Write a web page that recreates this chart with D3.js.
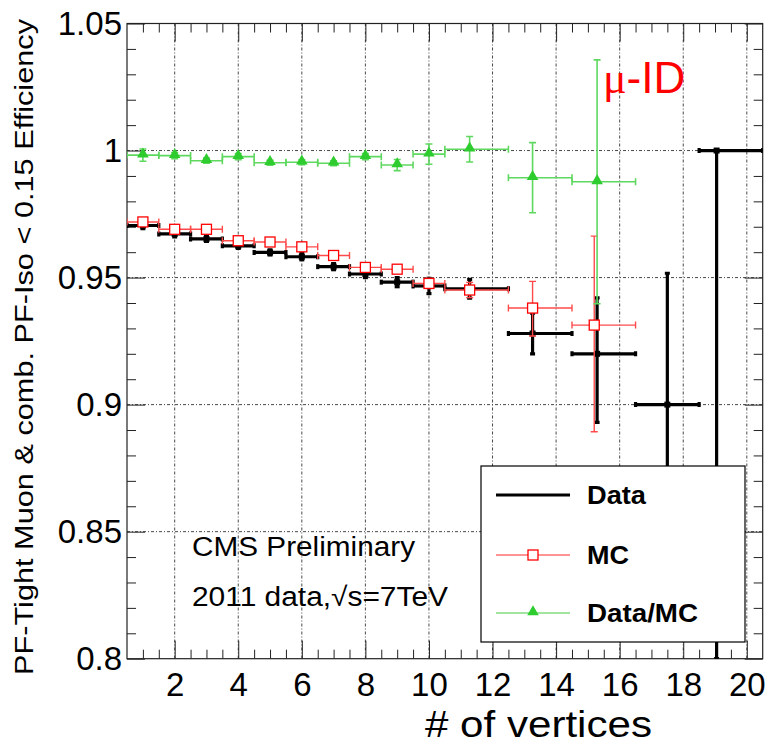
<!DOCTYPE html>
<html>
<head>
<meta charset="utf-8">
<script src="https://cdn.jsdelivr.net/npm/d3@7"></script>
<style>
  body { margin: 0; background: #fff; }
  svg { display: block; }
  text { font-family: "Liberation Sans", Arial, Helvetica, sans-serif; }
</style>
</head>
<body>
<svg id="chart" width="769" height="746"></svg>
<script>
// ---- bin edges (number of reconstructed vertices) ----
const binLow  = [0.5, 1.5, 2.5, 3.5, 4.5, 5.5, 6.5, 7.5, 8.5, 9.5, 10.5, 12.5, 14.5, 16.5, 18.5];
const binHigh = [1.5, 2.5, 3.5, 4.5, 5.5, 6.5, 7.5, 8.5, 9.5, 10.5, 12.5, 14.5, 16.5, 18.5, 20.5];

// ---- Data efficiency ----
const dataX       = [1, 2, 3, 4, 5, 6, 7, 8, 9, 10, 11.28, 13.26, 15.29, 17.5, 19.05];
const dataEff     = [0.9705, 0.9672, 0.9652, 0.9625, 0.9599, 0.9582, 0.9543, 0.9514, 0.9482, 0.9467, 0.9456, 0.928, 0.920, 0.900, 1.000];
const dataErrUp   = [0.0012, 0.0012, 0.0010, 0.0010, 0.0010, 0.0012, 0.0012, 0.0014, 0.0018, 0.0030, 0.0037, 0.008, 0.022, 0.0517, 0.0];
const dataErrDown = [0.0012, 0.0012, 0.0010, 0.0010, 0.0010, 0.0012, 0.0012, 0.0014, 0.0018, 0.0030, 0.0037, 0.008, 0.027, 0.0520, 0.200];

// ---- MC efficiency ----
const mcX       = [1, 2, 3, 4, 5, 6, 7, 8, 9, 10, 11.28, 13.26, 15.2];
const mcEff     = [0.9719, 0.969, 0.969, 0.9645, 0.964, 0.9621, 0.9587, 0.954, 0.9533, 0.9477, 0.9451, 0.938, 0.9313];
const mcErrUp   = [0.0010, 0.0010, 0.0010, 0.0010, 0.0010, 0.0010, 0.0012, 0.0012, 0.0015, 0.0020, 0.0030, 0.0105, 0.035];
const mcErrDown = [0.0010, 0.0010, 0.0010, 0.0010, 0.0010, 0.0010, 0.0012, 0.0012, 0.0015, 0.0020, 0.0030, 0.0110, 0.042];

// ---- Data/MC ratio ----
const ratioX   = [1, 2, 3, 4, 5, 6, 7, 8, 9, 10, 11.28, 13.26, 15.29];
const ratioVal = [0.9982, 0.998, 0.996, 0.9976, 0.9952, 0.9954, 0.995, 0.9976, 0.9943, 0.9986, 1.0005, 0.9893, 0.9877];
const ratioErr = [0.0024, 0.0012, 0.0010, 0.0012, 0.0010, 0.0010, 0.0010, 0.0012, 0.0022, 0.0040, 0.0050, 0.0138, 0.048];

// ---- axis ticks ----
const xMajorTicks  = [2, 4, 6, 8, 10, 12, 14, 16, 18, 20];
const xTickLabels  = ["2", "4", "6", "8", "10", "12", "14", "16", "18", "20"];
const yMajorTicks  = [0.8, 0.85, 0.9, 0.95, 1.0, 1.05];
const yTickLabels  = ["0.8", "0.85", "0.9", "0.95", "1", "1.05"];

const svg = d3.select("#chart");
const W = 769, H = 746;
const margin = { left: 127, top: 23.5, right: 6.3, bottom: 87.3 };
const iw = W - margin.left - margin.right;
const ih = H - margin.top - margin.bottom;

svg.append("rect").attr("width", W).attr("height", H).attr("fill", "#fff");

const x = d3.scaleLinear().domain([0.5, 20.5]).range([0, iw]);
const y = d3.scaleLinear().domain([0.8, 1.05]).range([ih, 0]);

const g = svg.append("g").attr("transform", `translate(${margin.left},${margin.top})`);

// minor tick positions built from the scales
const xMinor = d3.range(1, 20.5, 0.5).filter(v => xMajorTicks.indexOf(v) < 0);
const yMinor = d3.range(80, 105, 1).map(v => v / 100).filter(v => !yMajorTicks.some(m => Math.abs(m - v) < 1e-9));

// ---- grid ----
const grid = g.append("g").attr("stroke", "#333").attr("stroke-width", 0.9)
  .attr("stroke-dasharray", "3,2,1,2").attr("fill", "none");
grid.selectAll(".gx").data(xMajorTicks).join("line")
  .attr("x1", d => x(d)).attr("x2", d => x(d)).attr("y1", 0).attr("y2", ih);
grid.selectAll(".gy").data(yMajorTicks.filter(v => v > 0.8 && v < 1.05)).join("line")
  .attr("x1", 0).attr("x2", iw).attr("y1", d => y(d)).attr("y2", d => y(d));

// ---- axes ----
function styleAxis(sel) {
  sel.select(".domain").remove();
  sel.selectAll(".tick line").attr("stroke", "#222").attr("stroke-width", 1);
  sel.selectAll(".tick text").attr("fill", "#000").style("font-size", "33px")
    .style("font-family", '"Liberation Sans", Arial, sans-serif');
}
const fmtX = d => xTickLabels[xMajorTicks.indexOf(d)];
const fmtY = d => yTickLabels[yMajorTicks.indexOf(d)];

g.append("g").attr("transform", `translate(0,${ih})`)
  .call(d3.axisBottom(x).tickValues(xMajorTicks).tickSize(-18).tickPadding(14).tickFormat(fmtX))
  .call(styleAxis);
g.append("g").attr("transform", `translate(0,${ih})`)
  .call(d3.axisBottom(x).tickValues(xMinor).tickSize(-9).tickFormat(""))
  .call(styleAxis);
g.append("g")
  .call(d3.axisTop(x).tickValues(xMajorTicks).tickSize(-18).tickFormat(""))
  .call(styleAxis);
g.append("g")
  .call(d3.axisTop(x).tickValues(xMinor).tickSize(-9).tickFormat(""))
  .call(styleAxis);

g.append("g")
  .call(d3.axisLeft(y).tickValues(yMajorTicks).tickSize(-18).tickPadding(5).tickFormat(fmtY))
  .call(styleAxis);
g.append("g")
  .call(d3.axisLeft(y).tickValues(yMinor).tickSize(-9).tickFormat(""))
  .call(styleAxis);
g.append("g").attr("transform", `translate(${iw},0)`)
  .call(d3.axisRight(y).tickValues(yMajorTicks).tickSize(-18).tickFormat(""))
  .call(styleAxis);
g.append("g").attr("transform", `translate(${iw},0)`)
  .call(d3.axisRight(y).tickValues(yMinor).tickSize(-9).tickFormat(""))
  .call(styleAxis);

// frame
g.append("rect").attr("width", iw).attr("height", ih)
  .attr("fill", "none").attr("stroke", "#222").attr("stroke-width", 1.2);

// ---- clip for plotted series ----
svg.append("defs").append("clipPath").attr("id", "plotClip")
  .append("rect").attr("width", iw).attr("height", ih);
const plot = g.append("g").attr("clip-path", "url(#plotClip)");

// draws binned points with horizontal bin bars and vertical error bars
function drawErrorBars(layer, xs, ys, up, down, lo, hi, color, width, cap) {
  const idx = d3.range(xs.length);
  const lg = layer.append("g").attr("stroke", color).attr("stroke-width", width).attr("fill", "none");
  lg.selectAll(".h").data(idx).join("line")
    .attr("x1", i => x(lo[i])).attr("x2", i => x(hi[i]))
    .attr("y1", i => y(ys[i])).attr("y2", i => y(ys[i]));
  lg.selectAll(".v").data(idx.filter(i => up[i] + down[i] > 0)).join("line")
    .attr("x1", i => x(xs[i])).attr("x2", i => x(xs[i]))
    .attr("y1", i => y(ys[i] + up[i])).attr("y2", i => y(ys[i] - down[i]));
  // end caps
  idx.forEach(i => {
    [lo[i], hi[i]].forEach(e => {
      lg.append("line").attr("x1", x(e)).attr("x2", x(e))
        .attr("y1", y(ys[i]) - cap).attr("y2", y(ys[i]) + cap);
    });
    if (up[i] > 0) lg.append("line").attr("x1", x(xs[i]) - cap).attr("x2", x(xs[i]) + cap)
      .attr("y1", y(ys[i] + up[i])).attr("y2", y(ys[i] + up[i]));
    if (down[i] > 0) lg.append("line").attr("x1", x(xs[i]) - cap).attr("x2", x(xs[i]) + cap)
      .attr("y1", y(ys[i] - down[i])).attr("y2", y(ys[i] - down[i]));
  });
}

// Data (black)
drawErrorBars(plot, dataX, dataEff, dataErrUp, dataErrDown, binLow, binHigh, "#000", 3.2, 2.5);
plot.append("g").selectAll("rect").data(d3.range(dataX.length)).join("rect")
  .attr("x", i => x(dataX[i]) - 3).attr("y", i => y(dataEff[i]) - 3)
  .attr("width", 6).attr("height", 6).attr("fill", "#000");

// MC (red open squares)
const mcLo = binLow.slice(0, mcX.length), mcHi = binHigh.slice(0, mcX.length);
drawErrorBars(plot, mcX, mcEff, mcErrUp, mcErrDown, mcLo, mcHi, "#ff4a4a", 1.4, 3.5);
plot.append("g").selectAll("rect").data(d3.range(mcX.length)).join("rect")
  .attr("x", i => x(mcX[i]) - 5).attr("y", i => y(mcEff[i]) - 5)
  .attr("width", 10).attr("height", 10).attr("fill", "#fff")
  .attr("stroke", "#ff0000").attr("stroke-width", 1.3);

// Data/MC (green triangles)
const rLo = binLow.slice(0, ratioX.length), rHi = binHigh.slice(0, ratioX.length);
drawErrorBars(plot, ratioX, ratioVal, ratioErr, ratioErr, rLo, rHi, "#5fd85f", 1.6, 3.5);
const tri = d3.symbol().type(d3.symbolTriangle).size(58);
plot.append("g").selectAll("path").data(d3.range(ratioX.length)).join("path")
  .attr("d", tri)
  .attr("transform", i => `translate(${x(ratioX[i])},${y(ratioVal[i]) - 1})`)
  .attr("fill", "#2ecc2e");

// ---- texts ----
const label = svg.append("g");
const muId = label.append("text").attr("x", 603).attr("y", 93)
  .attr("fill", "#ff0000").style("font-size", "44px");
muId.append("tspan").style("font-family", '"Liberation Serif", "DejaVu Serif", serif').text("μ");
muId.append("tspan").text("-ID");

label.append("text").attr("x", 192).attr("y", 556)
  .attr("textLength", 223).attr("lengthAdjust", "spacingAndGlyphs")
  .style("font-size", "27px").attr("fill", "#000").text("CMS Preliminary");
label.append("text").attr("x", 192).attr("y", 606)
  .attr("textLength", 256).attr("lengthAdjust", "spacingAndGlyphs")
  .style("font-size", "27px").attr("fill", "#000").text("2011 data,√s=7TeV");

// axis titles
label.append("text").attr("x", 652).attr("y", 737).attr("text-anchor", "end")
  .attr("textLength", 227).attr("lengthAdjust", "spacingAndGlyphs")
  .style("font-size", "36px").attr("fill", "#000").text("# of vertices");
label.append("text").attr("transform", "translate(33,675) rotate(-90)")
  .attr("textLength", 656).attr("lengthAdjust", "spacingAndGlyphs")
  .style("font-size", "25px").attr("fill", "#000")
  .text("PF-Tight Muon & comb. PF-Iso < 0.15 Efficiency");

// ---- legend ----
const legendNames = ["Data", "MC", "Data/MC"];
const legendWidths = [59, 42, 111];
const leg = svg.append("g").attr("transform", "translate(481,466)");
leg.append("rect").attr("width", 264).attr("height", 176)
  .attr("fill", "#fff").attr("stroke", "#000").attr("stroke-width", 1.2);
const rowY = [29, 89, 147];
// Data row
leg.append("line").attr("x1", 15).attr("x2", 89).attr("y1", rowY[0]).attr("y2", rowY[0])
  .attr("stroke", "#000").attr("stroke-width", 3);
// MC row
leg.append("line").attr("x1", 15).attr("x2", 89).attr("y1", rowY[1]).attr("y2", rowY[1])
  .attr("stroke", "#ff7070").attr("stroke-width", 1.5);
leg.append("rect").attr("x", 52 - 5).attr("y", rowY[1] - 5).attr("width", 10).attr("height", 10)
  .attr("fill", "#fff").attr("stroke", "#ff0000").attr("stroke-width", 1.3);
// Data/MC row
leg.append("line").attr("x1", 15).attr("x2", 89).attr("y1", rowY[2]).attr("y2", rowY[2])
  .attr("stroke", "#44cc44").attr("stroke-width", 1.2);
leg.append("path").attr("d", tri).attr("transform", `translate(52,${rowY[2] - 1})`).attr("fill", "#2ecc2e");
leg.selectAll(".lt").data(legendNames).join("text")
  .attr("x", 106).attr("y", (d, i) => rowY[i] + 9)
  .attr("textLength", (d, i) => legendWidths[i]).attr("lengthAdjust", "spacingAndGlyphs")
  .style("font-size", "26px").style("font-weight", "bold").attr("fill", "#000")
  .text(d => d);
</script>
</body>
</html>
